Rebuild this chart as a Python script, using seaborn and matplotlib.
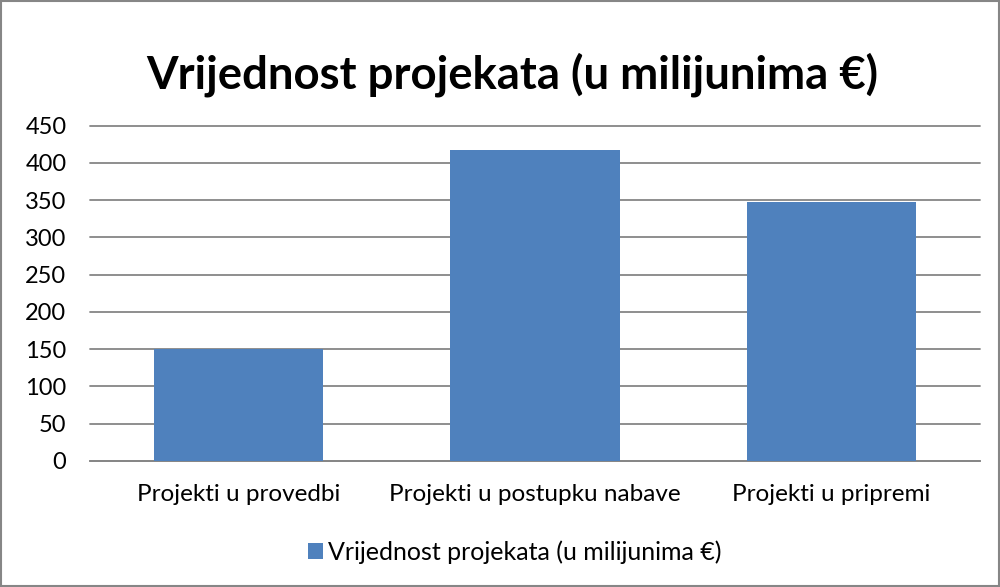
import pandas as pd
import matplotlib
matplotlib.use("Agg")
import matplotlib.pyplot as plt
import seaborn as sns
from matplotlib.patches import Patch

categories = ["Projekti u provedbi", "Projekti u postupku nabave", "Projekti u pripremi"]
values = [150, 417, 348]
series_name = "Vrijednost projekata (u milijunima €)"
y_ticks = [0, 50, 100, 150, 200, 250, 300, 350, 400, 450]

bar_color = "#4F81BD"
grid_color = "#868686"

sns.set_theme(style="white")
plt.rcParams["font.family"] = ["Lato", "DejaVu Sans"]
plt.rcParams["text.color"] = "black"
plt.rcParams["xtick.color"] = "black"
plt.rcParams["ytick.color"] = "black"

df = pd.DataFrame({"Kategorija": categories, "Vrijednost": values})

fig = plt.figure(figsize=(10, 5.87), dpi=100)
ax = fig.add_axes([0.09, 0.215, 0.89, 0.571])

sns.barplot(data=df, x="Kategorija", y="Vrijednost", color=bar_color,
            width=0.57, saturation=1, linewidth=0, ax=ax, zorder=3)

ax.set_ylim(0, 450)
ax.set_yticks(y_ticks)
ax.set_yticklabels([str(t) for t in y_ticks], fontsize=17)
ax.tick_params(axis="x", labelsize=17.5, length=0, pad=17)
ax.tick_params(axis="y", length=0, pad=17)
ax.set_xlabel("")
ax.set_ylabel("")
ax.yaxis.grid(True, color=grid_color, linewidth=1.3, zorder=0)
ax.set_axisbelow(True)
for s in ["top", "right", "left"]:
    ax.spines[s].set_visible(False)
ax.spines["bottom"].set_color(grid_color)
ax.spines["bottom"].set_linewidth(1.3)
for line in ax.get_ygridlines():
    line.set_clip_on(False)

fig.text(0.512, 0.872, "Vrijednost projekata (u milijunima €)", fontsize=32.8,
         fontweight="bold", ha="center", va="center")

handle = Patch(facecolor=bar_color, edgecolor="none")
fig.legend([handle], [series_name], loc="center", bbox_to_anchor=(0.5145, 0.059),
           frameon=False, fontsize=18, handlelength=0.6, handleheight=0.6,
           handletextpad=0.2)

# outer chart border
fig.patches.append(plt.Rectangle((0.001, 0.002), 0.998, 0.996, transform=fig.transFigure,
                                 fill=False, edgecolor="#868686", linewidth=1.5))

fig.savefig("out.png", dpi=100)
